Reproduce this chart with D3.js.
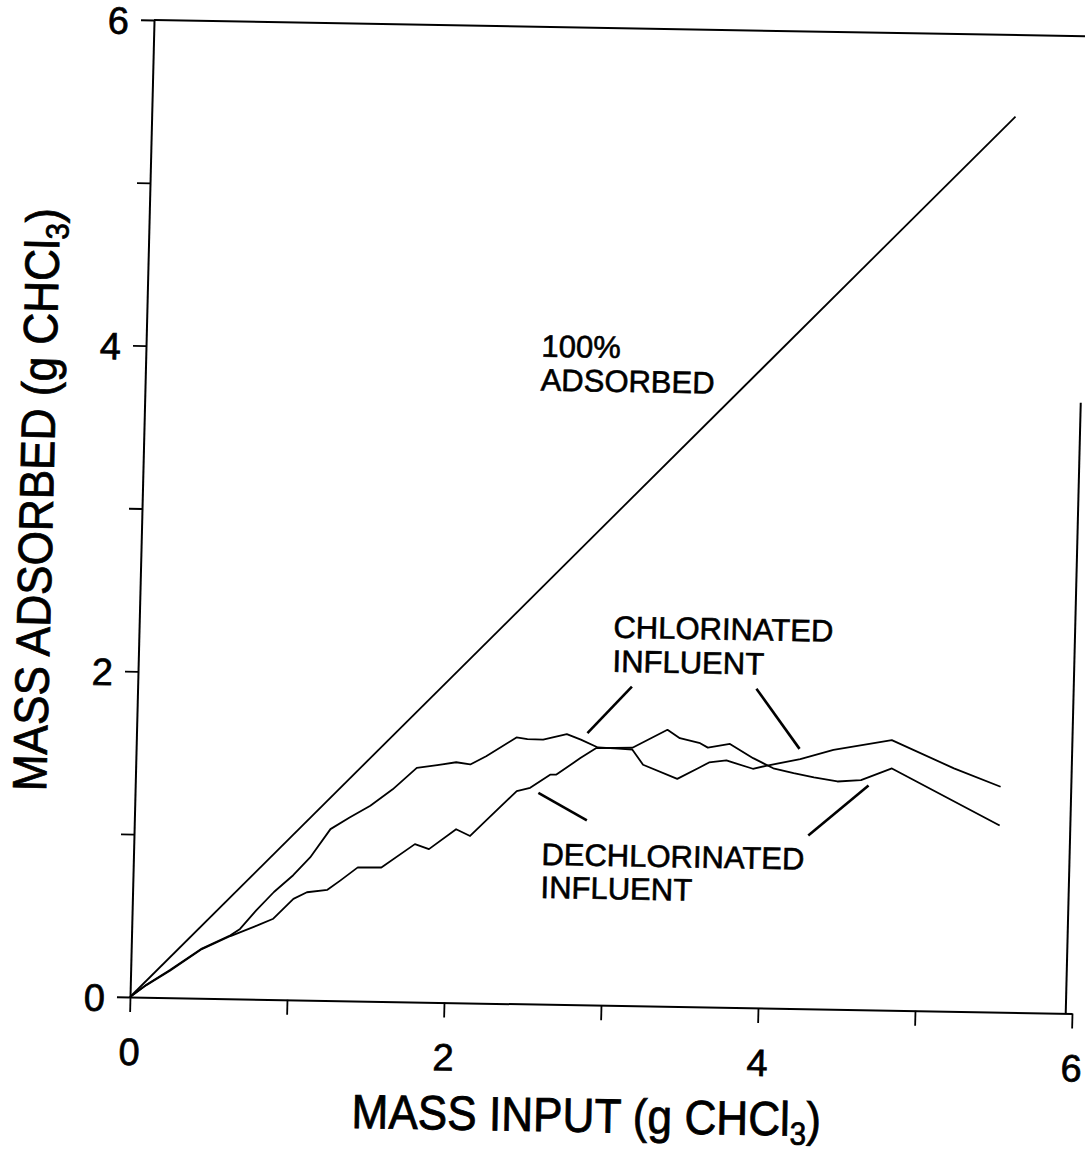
<!DOCTYPE html>
<html>
<head>
<meta charset="utf-8">
<script src="https://cdn.jsdelivr.net/npm/d3@7"></script>
<style>
    body { margin: 0; background: #fff; }
    svg { display: block; font-family: "Liberation Sans", Arial, Helvetica, sans-serif; }
</style>
</head>
<body>
<svg id="chart" width="1085" height="1154"></svg>
<script>
// Mass adsorbed vs mass input (g CHCl3)
const xTicks = [0, 1, 2, 3, 4, 5, 6];
const yTicks = [0, 1, 2, 3, 4, 5, 6];
const tickLabels = ['0', '', '2', '', '4', '', '6'];

const idealLine = [[0, 0], [5.5, 5.5]];

const chlorinated = [
    [0, 0], [0.10, 0.075], [0.25, 0.17], [0.45, 0.305], [0.63, 0.39], [0.69, 0.43],
    [0.79, 0.545], [0.90, 0.66], [1.02, 0.765], [1.125, 0.876], [1.25, 1.052],
    [1.37, 1.125], [1.50, 1.20], [1.64, 1.303], [1.79, 1.437], [1.92, 1.456],
    [2.04, 1.476], [2.13, 1.464], [2.23, 1.516], [2.42, 1.635], [2.49, 1.626],
    [2.59, 1.624], [2.74, 1.661], [2.83, 1.628], [2.94, 1.582], [3.07, 1.577],
    [3.16, 1.572], [3.23, 1.481], [3.45, 1.398], [3.59, 1.47], [3.65, 1.502],
    [3.76, 1.516], [3.93, 1.468], [4.02, 1.489], [4.23, 1.532], [4.44, 1.592],
    [4.81, 1.659], [5.21, 1.492], [5.51, 1.384]
];

const dechlorinated = [
    [0, 0], [0.10, 0.073], [0.25, 0.166], [0.45, 0.302], [0.63, 0.385], [0.80, 0.453],
    [0.90, 0.496], [1.025, 0.62], [1.11, 0.662], [1.24, 0.679], [1.32, 0.737],
    [1.43, 0.82], [1.58, 0.822], [1.79, 0.969], [1.88, 0.94], [2.05, 1.065],
    [2.14, 1.025], [2.24, 1.123], [2.43, 1.305], [2.515, 1.327], [2.64, 1.41],
    [2.68, 1.411], [2.83, 1.515], [2.93, 1.578], [3.16, 1.584], [3.38, 1.698],
    [3.46, 1.648], [3.59, 1.619], [3.64, 1.593], [3.78, 1.618], [3.93, 1.533],
    [4.06, 1.473], [4.19, 1.445], [4.32, 1.421], [4.47, 1.399], [4.62, 1.41],
    [4.815, 1.485], [5.51, 1.146]
];

// annotation text (data units, baseline-left)
const labelText = ['100%', 'ADSORBED', 'CHLORINATED', 'INFLUENT', 'DECHLORINATED', 'INFLUENT'];
const labelAt = [[2.518, 3.975], [2.518, 3.767], [3.02, 2.257], [3.02, 2.048], [2.597, 0.855], [2.597, 0.652]];

// leader lines from labels to curves
const pointers = [
    [[3.147, 1.959], [2.871, 1.669]],
    [[3.94, 1.96], [4.224, 1.595]],
    [[2.568, 1.297], [2.881, 1.133]],
    [[4.669, 1.377], [4.293, 1.065]]
];

const W = 942, H = 977;
const x = d3.scaleLinear().domain([0, 6]).range([0, W]);
const y = d3.scaleLinear().domain([0, 6]).range([0, -H]);

const svg = d3.select('#chart');

// the scanned figure is slightly skewed
const plot = svg.append('g')
    .attr('transform', 'matrix(1,0.0175,-0.0246,1,130,997)');

// Axes
const xAxis = plot.append('g')
    .call(d3.axisBottom(x)
        .tickValues(xTicks)
        .tickSize(15)
        .tickSizeOuter(0)
        .tickPadding(26)
        .tickFormat((d, i) => tickLabels[i]));

const yAxis = plot.append('g')
    .call(d3.axisLeft(y)
        .tickValues(yTicks)
        .tickSize(13)
        .tickSizeOuter(0)
        .tickPadding(12)
        .tickFormat((d, i) => tickLabels[i]));

[xAxis, yAxis].forEach(a => {
    a.attr('font-family', null).attr('font-size', null);
    a.select('.domain').attr('stroke', '#000').attr('stroke-width', 2);
    a.selectAll('.tick line').attr('stroke', '#000').attr('stroke-width', 1.8);
    a.selectAll('.tick text')
        .attr('fill', '#000')
        .attr('stroke', '#000')
        .attr('stroke-width', 0.7)
        .attr('font-size', '38px');
});
yAxis.selectAll('.tick text').attr('dy', '0.36em');

// Frame: top and right edge
plot.append('line')
    .attr('x1', x(0)).attr('y1', y(6))
    .attr('x2', x(6.15)).attr('y2', y(6))
    .attr('stroke', '#000').attr('stroke-width', 2);

plot.append('line')
    .attr('x1', x(5.96)).attr('y1', y(0))
    .attr('x2', x(5.96)).attr('y2', y(3.75))
    .attr('stroke', '#000').attr('stroke-width', 2);

// Curves
const line = d3.line()
    .x(d => x(d[0]))
    .y(d => y(d[1]));

[idealLine, chlorinated, dechlorinated].forEach(series => {
    plot.append('path')
        .datum(series)
        .attr('fill', 'none')
        .attr('stroke', '#000')
        .attr('stroke-width', 1.8)
        .attr('stroke-linejoin', 'round')
        .attr('d', line);
});

// Leader lines
pointers.forEach(p => {
    plot.append('line')
        .attr('x1', x(p[0][0])).attr('y1', y(p[0][1]))
        .attr('x2', x(p[1][0])).attr('y2', y(p[1][1]))
        .attr('stroke', '#000')
        .attr('stroke-width', 2.6);
});

// Annotation text
labelText.forEach((t, i) => {
    plot.append('text')
        .attr('x', x(labelAt[i][0]))
        .attr('y', y(labelAt[i][1]))
        .attr('font-size', '31px')
        .attr('fill', '#000')
        .attr('stroke', '#000')
        .attr('stroke-width', 0.6)
        .text(t);
});

// Axis titles
function axisTitle(g, main) {
    const t = g.append('text')
        .attr('text-anchor', 'middle')
        .attr('font-size', '48px')
        .attr('fill', '#000')
        .attr('stroke', '#000')
        .attr('stroke-width', 0.8);
    t.append('tspan').text(main);
    t.append('tspan').attr('font-size', '32px').attr('dy', 9).text('3');
    t.append('tspan').attr('dy', -9).text(')');
}

axisTitle(svg.append('g').attr('transform', 'translate(586,1132) rotate(1) scale(0.92,1)'),
    'MASS INPUT (g CHCl');
axisTitle(svg.append('g').attr('transform', 'translate(53,500) rotate(-88.6) scale(0.92,1)'),
    'MASS ADSORBED (g CHCl');
</script>
</body>
</html>
